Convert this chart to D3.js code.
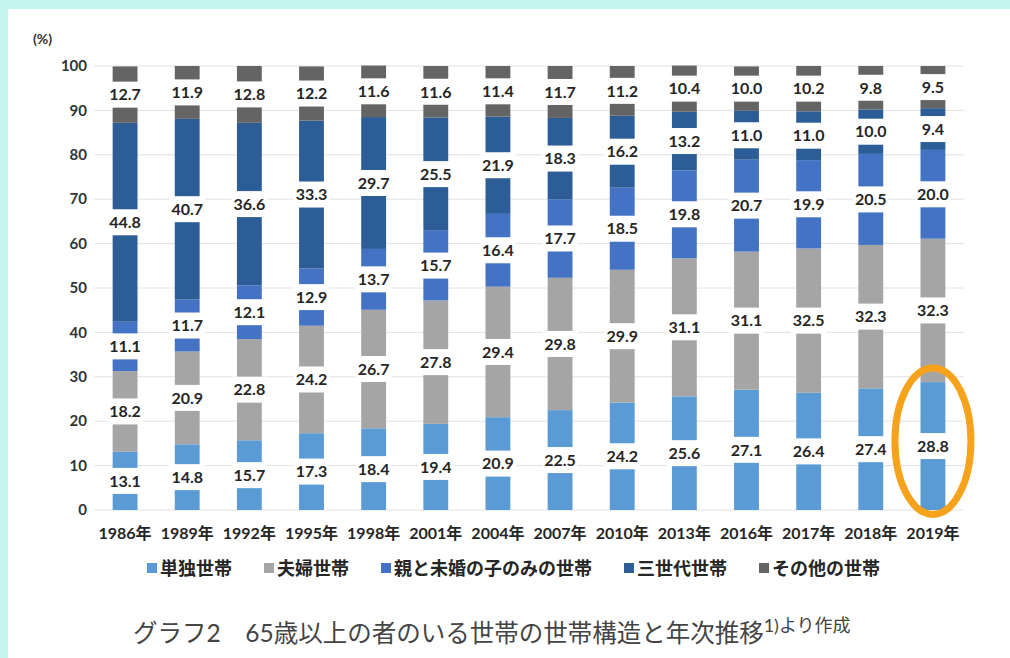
<!DOCTYPE html>
<html>
<head>
<meta charset="utf-8">
<script src="https://cdn.jsdelivr.net/npm/d3@7"></script>
<style>
  body { margin: 0; background: #fff; }
  text { font-family: Lato, "Noto Sans CJK JP", sans-serif; }
</style>
</head>
<body>
<script>
let w = 1010;
let h = 658;

// categories
let years = ["1986年", "1989年", "1992年", "1995年", "1998年", "2001年", "2004年",
             "2007年", "2010年", "2013年", "2016年", "2017年", "2018年", "2019年"];

// series values (%)
let tandoku = [13.1, 14.8, 15.7, 17.3, 18.4, 19.4, 20.9, 22.5, 24.2, 25.6, 27.1, 26.4, 27.4, 28.8];
let fuufu   = [18.2, 20.9, 22.8, 24.2, 26.7, 27.8, 29.4, 29.8, 29.9, 31.1, 31.1, 32.5, 32.3, 32.3];
let oyako   = [11.1, 11.7, 12.1, 12.9, 13.7, 15.7, 16.4, 17.7, 18.5, 19.8, 20.7, 19.9, 20.5, 20.0];
let sansedai = [44.8, 40.7, 36.6, 33.3, 29.7, 25.5, 21.9, 18.3, 16.2, 13.2, 11.0, 11.0, 10.0, 9.4];
let sonota  = [12.7, 11.9, 12.8, 12.2, 11.6, 11.6, 11.4, 11.7, 11.2, 10.4, 10.0, 10.2, 9.8, 9.5];

let seriesNames = ["単独世帯", "夫婦世帯", "親と未婚の子のみの世帯", "三世代世帯", "その他の世帯"];
let seriesValues = [tandoku, fuufu, oyako, sansedai, sonota];
let yTicks = [0, 10, 20, 30, 40, 50, 60, 70, 80, 90, 100];

let colors = ["#5b9bd5", "#a5a5a5", "#4472c4", "#2c5d96", "#646464"];

// build rows for d3.stack
let rows = years.map((yr, i) => {
  let r = { year: yr };
  seriesNames.forEach((s, j) => { r[s] = seriesValues[j][i]; });
  return r;
});

let svg = d3.select("body")
            .append("svg")
            .attr("width", w)
            .attr("height", h);

// light cyan frame
svg.append("rect").attr("width", w).attr("height", h).attr("fill", "#c5f5f1");
svg.append("rect").attr("x", 8).attr("y", 9).attr("width", w - 8).attr("height", h - 9).attr("fill", "#fff");

let x = d3.scaleBand()
          .domain(years)
          .range([94, 964])
          .paddingInner(0.6)
          .paddingOuter(0.3);

let y = d3.scaleLinear()
          .domain([0, 100])
          .range([510, 66]);

// gridlines
svg.append("g")
   .selectAll("line")
   .data(yTicks)
   .enter()
   .append("line")
   .attr("x1", 94)
   .attr("x2", 964)
   .attr("y1", d => y(d))
   .attr("y2", d => y(d))
   .attr("stroke", "#e2e2e2")
   .attr("stroke-width", 1);

// y tick labels
svg.append("g")
   .selectAll("text")
   .data(yTicks)
   .enter()
   .append("text")
   .attr("x", 87)
   .attr("y", d => y(d))
   .attr("dy", "0.35em")
   .attr("text-anchor", "end")
   .attr("font-size", 15)
   .attr("font-weight", "bold")
   .attr("fill", "#333")
   .text(d => d);

svg.append("text")
   .attr("x", 33)
   .attr("y", 44)
   .attr("font-size", 14)
   .attr("font-weight", "bold")
   .attr("fill", "#333")
   .text("(%)");

let stacked = d3.stack().keys(seriesNames)(rows);

// bars
let layers = svg.append("g")
   .selectAll("g")
   .data(stacked)
   .enter()
   .append("g")
   .attr("fill", (d, i) => colors[i]);

layers.selectAll("rect")
   .data(d => d)
   .enter()
   .append("rect")
   .attr("x", d => x(d.data.year))
   .attr("width", x.bandwidth())
   .attr("y", d => y(d[1]))
   .attr("height", d => y(d[0]) - y(d[1]));

// data labels with white boxes
let labels = svg.append("g");
stacked.forEach(layer => {
  layer.forEach(d => {
    let cx = x(d.data.year) + x.bandwidth() / 2;
    let cy = y((d[0] + d[1]) / 2);
    let g = labels.append("g");
    let t = g.append("text")
       .attr("x", cx)
       .attr("y", cy)
       .attr("dy", "0.36em")
       .attr("text-anchor", "middle")
       .attr("font-size", 16)
       .attr("font-weight", "bold")
       .attr("fill", "#262626")
       .text(d3.format(".1f")(d.data[layer.key]));
    let bw = Math.max(t.node().getComputedTextLength() + 4, x.bandwidth() + 2);
    g.insert("rect", "text")
     .attr("x", cx - bw / 2)
     .attr("y", cy - 13)
     .attr("width", bw)
     .attr("height", 26)
     .attr("fill", "#fff");
  });
});

// x labels
svg.append("g")
   .selectAll("text")
   .data(years)
   .enter()
   .append("text")
   .attr("x", d => x(d) + x.bandwidth() / 2)
   .attr("y", 539)
   .attr("text-anchor", "middle")
   .attr("font-size", 16)
   .attr("font-weight", "bold")
   .attr("fill", "#262626")
   .text(d => d);

// legend
let legend = svg.append("g");
let lx = 147;
seriesNames.forEach((s, i) => {
  legend.append("rect")
        .attr("x", lx)
        .attr("y", 563)
        .attr("width", 10)
        .attr("height", 10)
        .attr("fill", colors[i]);
  let t = legend.append("text")
        .attr("x", lx + 13)
        .attr("y", 575)
        .attr("font-size", 18)
        .attr("font-weight", "bold")
        .attr("fill", "#262626")
        .text(s);
  lx += 13 + t.node().getComputedTextLength() + 32;
});

// highlight for 2019
let last = years[years.length - 1];
svg.append("ellipse")
   .attr("cx", x(last) + x.bandwidth() / 2)
   .attr("cy", (y(32) + y(-1)) / 2)
   .attr("rx", 38)
   .attr("ry", (y(-1) - y(32)) / 2)
   .attr("fill", "none")
   .attr("stroke", "#f7a21b")
   .attr("stroke-width", 7);

// caption
let cap = svg.append("text")
   .attr("x", 133)
   .attr("y", 642)
   .attr("font-family", "'Noto Sans CJK JP', sans-serif")
   .attr("font-size", 24.5)
   .attr("fill", "#444");
cap.append("tspan").text("グラフ2　65歳以上の者のいる世帯の世帯構造と年次推移");
cap.append("tspan").attr("dy", -10).attr("font-size", 18).text("1)より作成");
</script>
</body>
</html>
